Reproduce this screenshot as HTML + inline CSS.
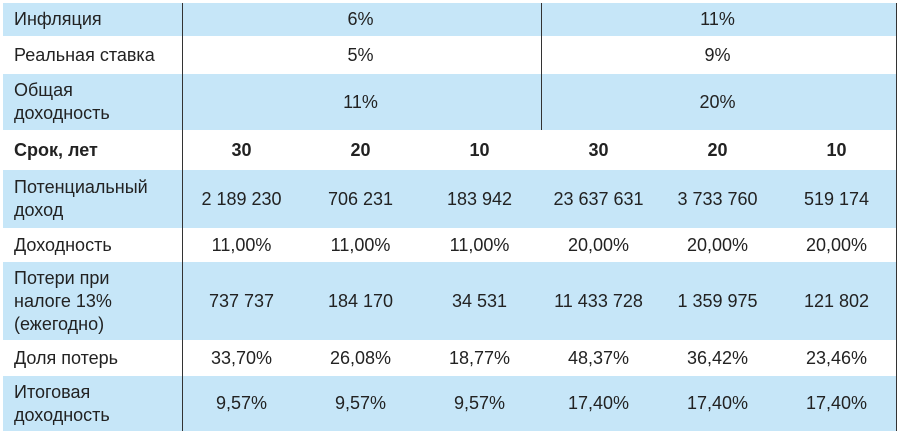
<!DOCTYPE html><html><head><meta charset="utf-8"><style>
body{margin:0;width:898px;height:439px;background:#fff;font-family:"Liberation Sans",Arial,sans-serif;font-size:18px;color:#222;position:relative;overflow:hidden}
.r{position:absolute;left:3px;width:893px}
.b{background:#c6e6f8}
.c{position:absolute;top:0;bottom:0;display:flex;align-items:center;justify-content:center;text-align:center;line-height:23px;white-space:nowrap}
.l{position:absolute;left:11px;top:0;bottom:0;display:flex;align-items:center;line-height:23px;width:168px;white-space:nowrap}
.v{position:absolute;width:1px;background:#333}
</style></head><body>
<div id="t"></div>
<script>
var rows=[
[3,36,1,"Инфляция",["6%","11%"]],
[36,74,0,"Реальная ставка",["5%","9%"]],
[74,130,1,"Общая<br>доходность",["11%","20%"]],
[130,170,0,"<b>Срок, лет</b>",["<b>30</b>","<b>20</b>","<b>10</b>","<b>30</b>","<b>20</b>","<b>10</b>"]],
[170,228,1,"Потенциальный<br>доход",["2 189 230","706 231","183 942","23 637 631","3 733 760","519 174"]],
[228,262,0,"Доходность",["11,00%","11,00%","11,00%","20,00%","20,00%","20,00%"]],
[262,340,1,"Потери при<br>налоге 13%<br>(ежегодно)",["737 737","184 170","34 531","11 433 728","1 359 975","121 802"]],
[340,376,0,"Доля потерь",["33,70%","26,08%","18,77%","48,37%","36,42%","23,46%"]],
[376,431,1,"Итоговая<br>доходность",["9,57%","9,57%","9,57%","17,40%","17,40%","17,40%"]]];
var h="";
rows.forEach(function(r){
h+='<div class="r'+(r[2]?' b':'')+'" style="top:'+r[0]+'px;height:'+(r[1]-r[0])+'px"><div class="l">'+r[3]+'</div>';
var n=r[4].length,w=714/n;
r[4].forEach(function(v,i){h+='<div class="c" style="left:'+(179+i*w)+'px;width:'+w+'px">'+v+'</div>';});
h+='</div>';});
h+='<div class="v" style="left:182px;top:3px;height:428px"></div>';
h+='<div class="v" style="left:541px;top:3px;height:127px"></div>';
h+='<div class="v" style="left:896px;top:3px;height:428px"></div>';
document.getElementById("t").innerHTML=h;
</script></body></html>
